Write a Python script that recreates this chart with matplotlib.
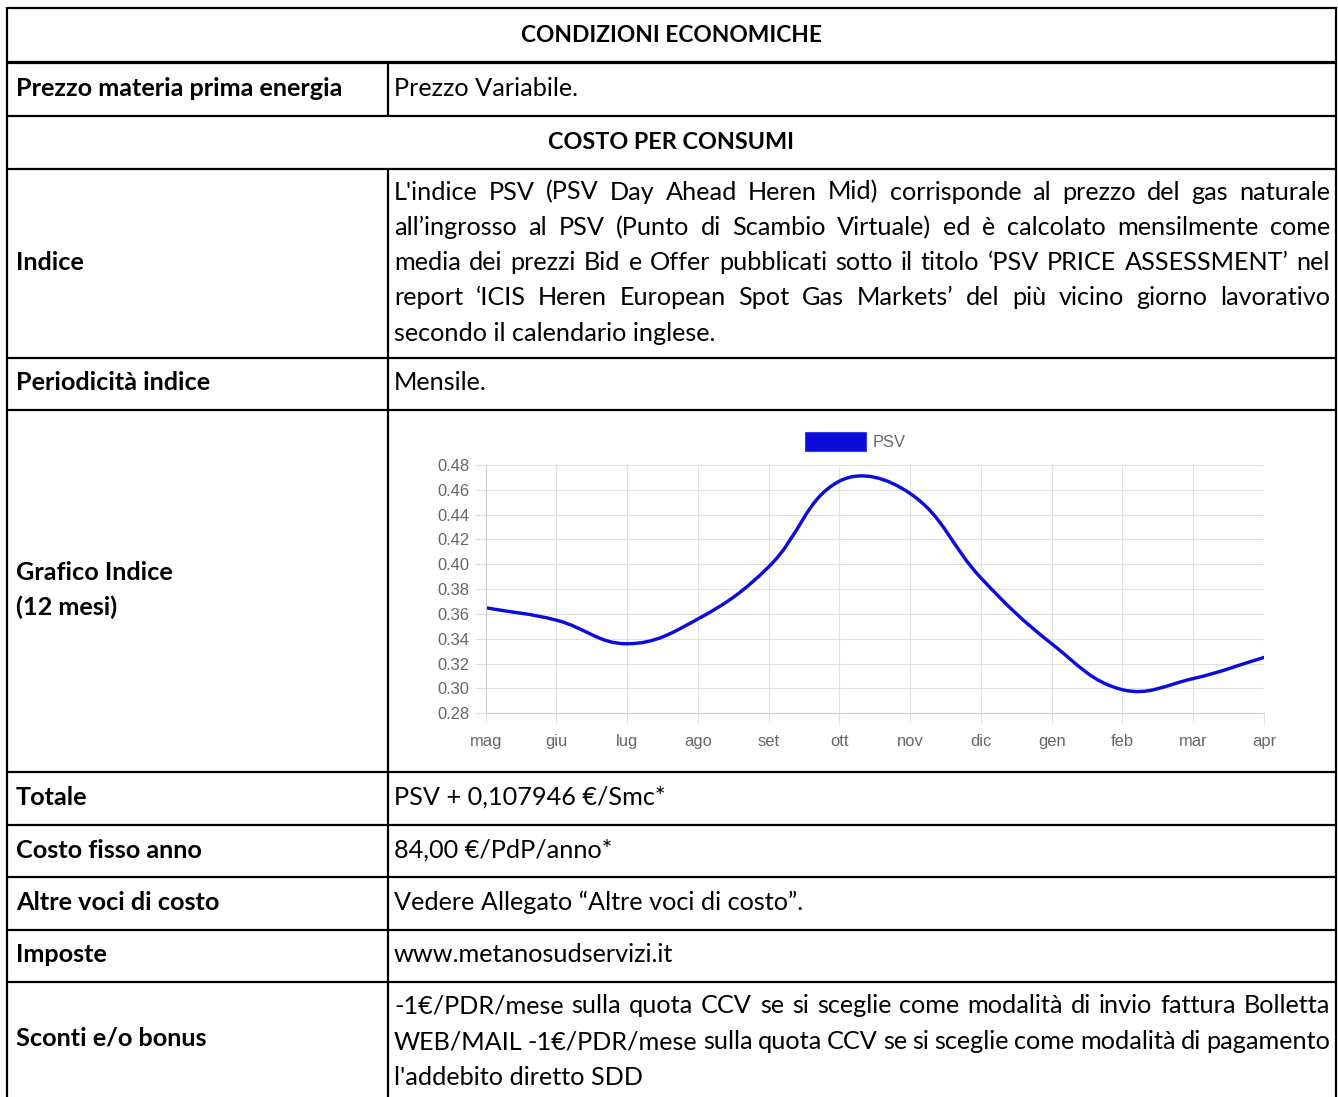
import matplotlib
matplotlib.use("Agg")
import matplotlib.pyplot as plt
from matplotlib.path import Path
from matplotlib.patches import PathPatch, Patch
import numpy as np

# ---------------- data ----------------
months = ['mag', 'giu', 'lug', 'ago', 'set', 'ott', 'nov', 'dic', 'gen', 'feb', 'mar', 'apr']
psv_values = [0.365, 0.355, 0.336, 0.356, 0.398, 0.467, 0.457, 0.389, 0.336, 0.299, 0.308, 0.325]
series_name = 'PSV'
y_ticks = [0.28, 0.30, 0.32, 0.34, 0.36, 0.38, 0.40, 0.42, 0.44, 0.46, 0.48]
y_tick_labels = ['0.28', '0.30', '0.32', '0.34', '0.36', '0.38', '0.40', '0.42', '0.44', '0.46', '0.48']

header_1 = 'CONDIZIONI ECONOMICHE'
header_2 = 'COSTO PER CONSUMI'
left_labels = ['Prezzo materia prima energia', 'Indice', 'Periodicità indice',
               'Grafico Indice\n(12 mesi)', 'Totale', 'Costo fisso anno',
               'Altre voci di costo', 'Imposte', 'Sconti e/o bonus']
prezzo_text = 'Prezzo Variabile.'
indice_lines = [
    "L'indice PSV (PSV Day Ahead Heren Mid) corrisponde al prezzo del gas naturale",
    "all\u2019ingrosso al PSV (Punto di Scambio Virtuale) ed è calcolato mensilmente come",
    "media dei prezzi Bid e Offer pubblicati sotto il titolo \u2018PSV PRICE ASSESSMENT\u2019 nel",
    "report \u2018ICIS Heren European Spot Gas Markets\u2019 del più vicino giorno lavorativo",
    "secondo il calendario inglese.",
]
periodicita_text = 'Mensile.'
totale_text = 'PSV + 0,107946 \u20ac/Smc*'
costo_fisso_text = '84,00 \u20ac/PdP/anno*'
altre_voci_text = 'Vedere Allegato \u201cAltre voci di costo\u201d.'
imposte_text = 'www.metanosudservizi.it'
sconti_lines = [
    "-1\u20ac/PDR/mese sulla quota CCV se si sceglie come modalità di invio fattura Bolletta",
    "WEB/MAIL -1\u20ac/PDR/mese sulla quota CCV se si sceglie come modalità di pagamento",
    "l'addebito diretto SDD",
]

# ---------------- figure ----------------
W, H, DPI = 1338, 1097, 100
fig = plt.figure(figsize=(W / DPI, H / DPI), dpi=DPI)
fig.patch.set_facecolor('white')

ax_t = fig.add_axes([0, 0, 1, 1])
ax_t.set_xlim(0, W)
ax_t.set_ylim(H, 0)
ax_t.axis('off')
renderer = fig.canvas.get_renderer()

FAM = ['Lato', 'DejaVu Sans']
CHART_FAM = ['Liberation Sans', 'DejaVu Sans']


def px(v):
    return v * 72.0 / DPI


def fit_size(s, weight, target):
    t = ax_t.text(0, 0, s, fontsize=20, fontweight=weight, family=FAM)
    w = t.get_window_extent(renderer).width
    t.remove()
    return 20 * target / w


FS_REG = fit_size('secondo il calendario inglese.', 'normal', 322)
FS_BOLD = fit_size('Prezzo materia prima energia', 'bold', 328)
FS_H1 = fit_size(header_1, 'bold', 300)
FS_H2 = fit_size(header_2, 'bold', 246)

# table geometry (pixels)
rows = [8, 62, 116, 169, 358, 410, 772, 825, 877, 930, 982, 1097]
XL, XR, XD = 7, 1336, 388
LINE = '#000000'

for y in rows[:-1]:
    lw = 3.2 if y == 62 else 2.2
    ax_t.plot([XL, XR], [y, y], color=LINE, lw=px(lw), solid_capstyle='butt')
ax_t.plot([XL, XL], [rows[0] - 1, H], color=LINE, lw=px(2.2), solid_capstyle='butt')
ax_t.plot([XR, XR], [rows[0] - 1, H], color=LINE, lw=px(2.2), solid_capstyle='butt')
ax_t.plot([XD, XD], [62, 116], color=LINE, lw=px(2.2), solid_capstyle='butt')
ax_t.plot([XD, XD], [169, H], color=LINE, lw=px(2.2), solid_capstyle='butt')

TXT_L, TXT_R, TXT_RE = 16, 394, 1330


def btext(x, y, s, ha='left', size=None):
    ax_t.text(x, y, s, fontsize=size or FS_BOLD, fontweight='bold', family=FAM,
              ha=ha, va='baseline', color='black')


def rtext(x, y, s, ha='left'):
    ax_t.text(x, y, s, fontsize=FS_REG, family=FAM, ha=ha, va='baseline', color='black')


def justified(lines, baselines, justify):
    for line, yb, j in zip(lines, baselines, justify):
        if not j:
            rtext(TXT_R, yb, line)
            continue
        words = line.split(' ')
        widths = []
        for w in words:
            t = ax_t.text(0, 0, w, fontsize=FS_REG, family=FAM)
            widths.append(t.get_window_extent(renderer).width)
            t.remove()
        gap = (TXT_RE - TXT_R - sum(widths)) / (len(words) - 1)
        x = TXT_R
        for w, wd in zip(words, widths):
            rtext(x, yb, w)
            x += wd + gap


def base(r):
    return (rows[r] + rows[r + 1]) / 2 + 6.5


# headers
btext((XL + XR) / 2, base(0), header_1, ha='center', size=FS_H1)
btext((XL + XR) / 2, base(2), header_2, ha='center', size=FS_H2)

# left column
btext(TXT_L, base(1), left_labels[0])
btext(TXT_L, base(3), left_labels[1])
btext(TXT_L, base(4), left_labels[2])
g1, g2 = left_labels[3].split('\n')
btext(TXT_L, 580, g1)
btext(TXT_L, 615, g2)
for k, r in enumerate([6, 7, 8, 9, 10]):
    btext(TXT_L, base(r), left_labels[4 + k])

# right column
rtext(TXT_R, base(1), prezzo_text)
justified(indice_lines, [199.5 + 35.3 * i for i in range(5)], [True, True, True, True, False])
rtext(TXT_R, base(4), periodicita_text)
rtext(TXT_R, base(6), totale_text)
rtext(TXT_R, base(7), costo_fisso_text)
rtext(TXT_R, base(8), altre_voci_text)
rtext(TXT_R, base(9), imposte_text)
justified(sconti_lines, [1013, 1049, 1085], [True, True, False])

# ---------------- chart ----------------
ax_l, ax_r, ax_top, ax_bot = 485.7, 1264.0, 465.0, 713.3
ax = fig.add_axes([ax_l / W, 1 - ax_bot / H, (ax_r - ax_l) / W, (ax_bot - ax_top) / H])
x = np.arange(len(months))
ax.set_xlim(0, len(months) - 1)
ax.set_ylim(y_ticks[0], y_ticks[-1])
ax.set_xticks(x)
ax.set_xticklabels(months)
ax.set_yticks(y_ticks)
ax.set_yticklabels(y_tick_labels)
GRID = '#e0e0e0'
ax.grid(True, color=GRID, lw=px(1.1))
ax.set_axisbelow(True)
for s in ['top', 'right']:
    ax.spines[s].set_visible(False)
for s in ['left', 'bottom']:
    ax.spines[s].set_color('#cccccc')
    ax.spines[s].set_linewidth(px(1.1))
ax.tick_params(axis='y', length=px(11.5), width=px(1.1), color=GRID, pad=px(5),
               labelsize=px(16.5), labelcolor='#666666')
ax.tick_params(axis='x', length=px(10), width=px(1.1), color=GRID, pad=px(11),
               labelsize=px(16.5), labelcolor='#666666')
for lab in ax.get_xticklabels() + ax.get_yticklabels():
    lab.set_family(CHART_FAM)

# Chart.js style bezier (tension 0.4)
LINE_COLOR = '#0c0cda'
pts = ax.transData.transform(np.column_stack([x, psv_values]))
n = len(pts)
tension = 0.4
cp_prev = np.zeros_like(pts)
cp_next = np.zeros_like(pts)
for i in range(n):
    prev = pts[i - 1] if i > 0 else pts[i]
    cur = pts[i]
    nxt = pts[i + 1] if i < n - 1 else pts[i]
    d01 = np.hypot(*(cur - prev))
    d12 = np.hypot(*(nxt - cur))
    tot = d01 + d12
    s01 = d01 / tot if tot else 0
    s12 = d12 / tot if tot else 0
    cp_prev[i] = cur - tension * s01 * (nxt - prev)
    cp_next[i] = cur + tension * s12 * (nxt - prev)
verts = [pts[0]]
codes = [Path.MOVETO]
for i in range(n - 1):
    verts += [cp_next[i], cp_prev[i + 1], pts[i + 1]]
    codes += [Path.CURVE4] * 3
inv = ax.transData.inverted()
verts_data = inv.transform(np.array(verts))
ax.add_patch(PathPatch(Path(verts_data, codes), facecolor='none', edgecolor=LINE_COLOR,
                       lw=px(3.4), capstyle='round', joinstyle='round'))

# legend
leg = fig.legend(handles=[Patch(facecolor=LINE_COLOR, edgecolor='#3b3be6', lw=0.8)],
                 labels=[series_name], loc='center',
                 bbox_to_anchor=(855 / W, 1 - 441.5 / H), frameon=False,
                 prop={'family': CHART_FAM, 'size': px(16.5)},
                 handlelength=61 / 16.5, handleheight=21.6 / 16.5, handletextpad=0.4,
                 borderpad=0, borderaxespad=0)
for t in leg.get_texts():
    t.set_color('#666666')

fig.savefig('out.png', dpi=DPI, facecolor='white')
